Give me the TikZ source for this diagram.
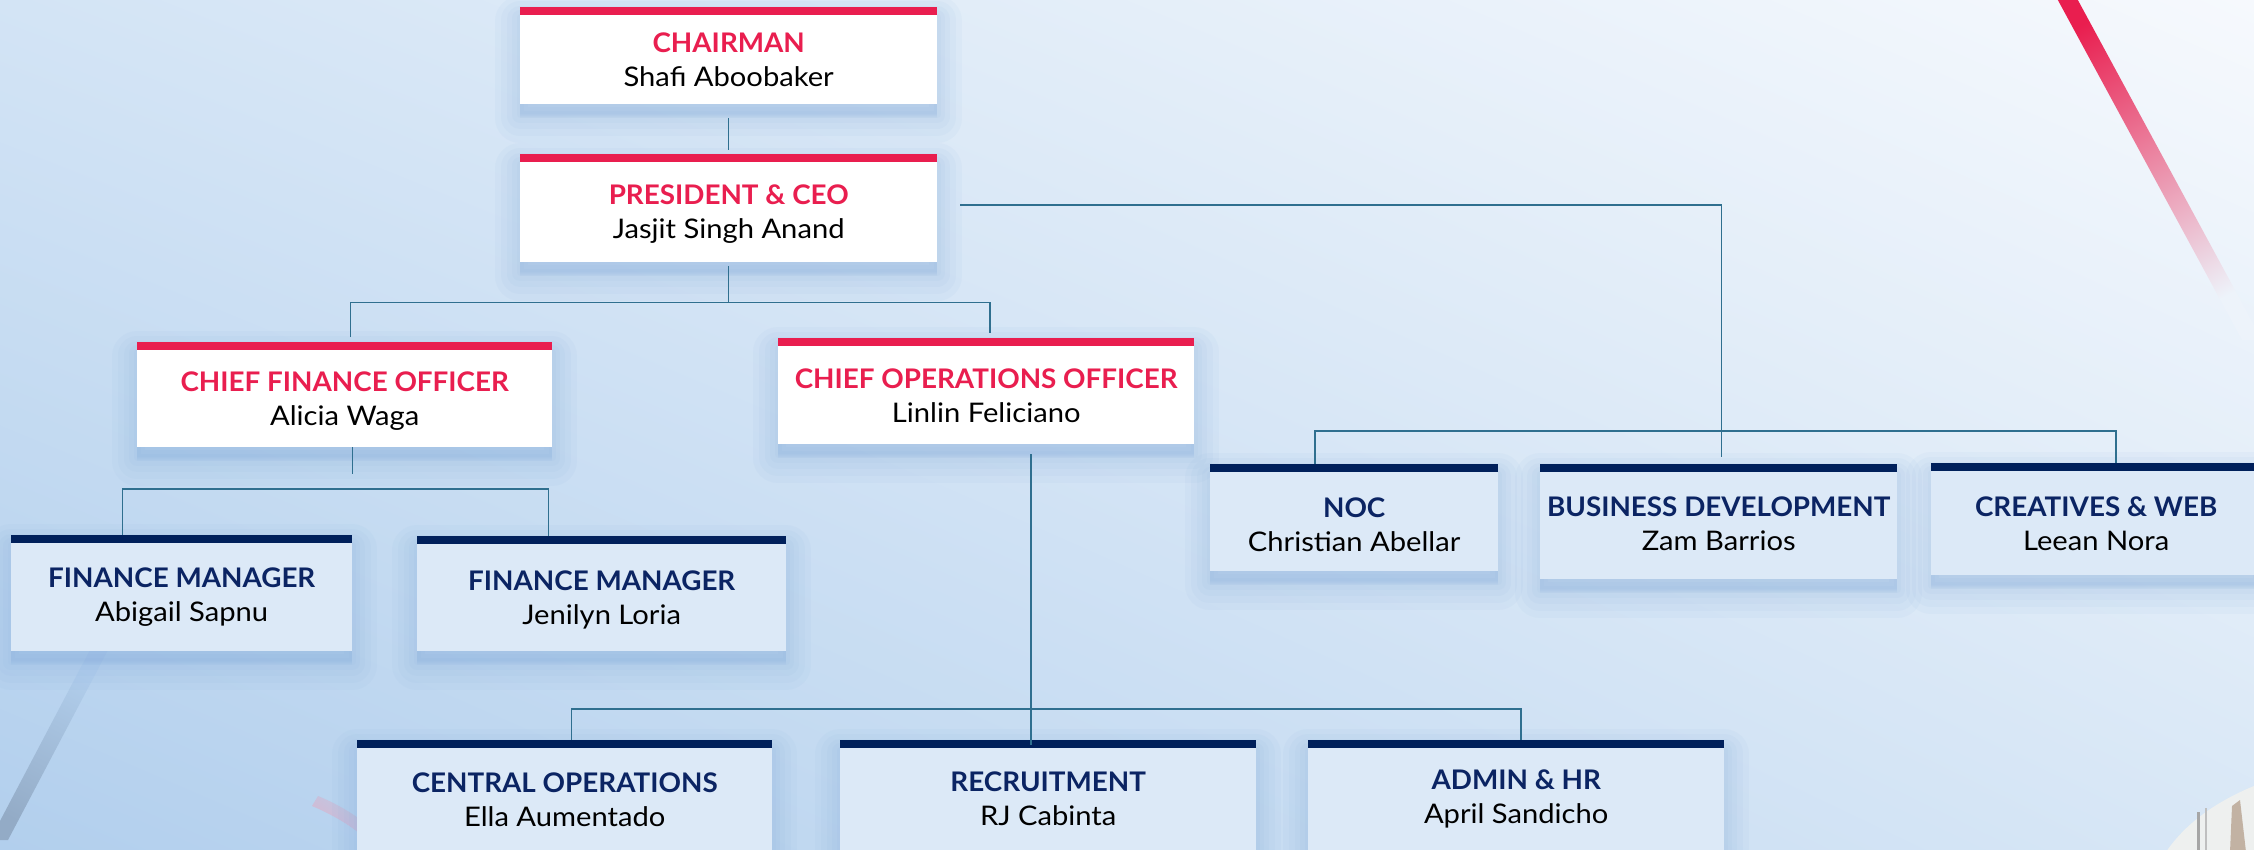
\documentclass[tikz,border=0pt]{standalone}
\usepackage{fontspec}
\setmainfont{Lato}[FakeStretch=1.08]
\newfontfamily\headfont{Lato}[FakeStretch=1.03]
\usetikzlibrary{shadows,shadings}

\definecolor{crimson}{HTML}{E91E4F}
\definecolor{navy}{HTML}{00205B}
\definecolor{navytext}{HTML}{0B2463}
\definecolor{paleblue}{HTML}{DCE9F7}
\definecolor{linkblue}{HTML}{2F6F8F}
\definecolor{shadeblue}{HTML}{7FA9DA}
\definecolor{bgUL}{HTML}{D3E4F5}
\definecolor{bgUR}{HTML}{F6F9FD}
\definecolor{bgLL}{HTML}{B2CFED}
\definecolor{bgLR}{HTML}{D8E7F6}
\definecolor{stripefade}{HTML}{EDF3FA}
\definecolor{greystripe}{HTML}{93ABC6}
\definecolor{softpink}{HTML}{E4AFC6}
\definecolor{photowhite}{HTML}{EEF0EF}

\newcommand\redtitle[1]{{\headfont\bfseries\color{crimson}#1}}
\newcommand\navytitle[1]{{\headfont\bfseries\color{navytext}#1}}
% two-line card text, drawn #1 lower than the centre of the card
\newcommand\cardtext[3][5pt]{\raisebox{-#1}[\height][\depth]{%
  \begin{tabular}{@{}c@{}}#2\\#3\end{tabular}}}

\tikzset{
  shadowlayer/.style={fill=shadeblue, draw=shadeblue, line join=round, opacity=0.06},
  softshadow/.style={
    general shadow={shadowlayer, line width=50pt, shadow yshift=-14pt},
    general shadow={shadowlayer, line width=38pt, shadow yshift=-13pt},
    general shadow={shadowlayer, line width=26pt, shadow yshift=-12pt},
    general shadow={shadowlayer, line width=16pt, shadow yshift=-11pt},
    general shadow={shadowlayer, line width=7pt, shadow yshift=-10pt},
  },
  orgbox/.style={rectangle, anchor=north west, inner sep=0pt,
    font=\fontsize{27}{34}\selectfont, text=black, softshadow},
  leadbox/.style={orgbox, fill=white,
    path picture={\fill[crimson] (path picture bounding box.north west) rectangle ([yshift=-8pt]path picture bounding box.north east);}},
  unitbox/.style={orgbox, fill=paleblue,
    path picture={\fill[navy] (path picture bounding box.north west) rectangle ([yshift=-8pt]path picture bounding box.north east);}},
  link/.style={draw=linkblue, line width=1.5pt},
}

\begin{document}
\begin{tikzpicture}[x=1pt, y=-1pt]
  % canvas and background
  \clip (0,0) rectangle (2254,850);
  \shade[upper left=bgUL, upper right=bgUR, lower left=bgLL, lower right=bgLR]
    (0,0) rectangle (2254,850);

  % decorative stripes
  \shade[top color=crimson, middle color=crimson!70!stripefade, bottom color=stripefade, shading angle=29]
    (2047,-20) -- (2067,-20) -- (2262,340) -- (2242,340) -- cycle;
  \shade[top color=bgLL, bottom color=greystripe, shading angle=-28]
    (90,650) -- (108,650) -- (8,840) -- (-10,840) -- cycle;
  \shade[top color=bgLL, bottom color=softpink, shading angle=-35]
    (312,806) .. controls (345,820) and (370,838) .. (384,860) -- (398,860)
    .. controls (382,832) and (352,810) .. (318,796) -- cycle;

  % photo corner
  \fill[photowhite] (2254,786) .. controls (2215,802) and (2185,824) .. (2166,852) -- (2254,852) -- cycle;
  \draw[gray!70, line width=3pt] (2198,812) -- (2198,852);
  \draw[gray!50, line width=2pt] (2206,808) -- (2206,852);
  \fill[brown!40!gray!60] (2232,806) -- (2240,800) -- (2246,852) -- (2230,852) -- cycle;

  % leadership
  \node[leadbox, minimum width=417pt, minimum height=97pt] (chair) at (520,7)
    {\cardtext[7pt]{\redtitle{CHAIRMAN}}{Shafi Aboobaker}};
  \node[leadbox, minimum width=417pt, minimum height=108pt] (pres) at (520,154)
    {\cardtext[7pt]{\redtitle{PRESIDENT \& CEO}}{Jasjit Singh Anand}};
  \node[leadbox, minimum width=415pt, minimum height=105pt] (cfo) at (137,342)
    {\cardtext[7pt]{\redtitle{CHIEF FINANCE OFFICER}}{Alicia Waga}};
  \node[leadbox, minimum width=416pt, minimum height=106pt] (coo) at (778,338)
    {\cardtext[7.5pt]{\redtitle{CHIEF OPERATIONS OFFICER}}{Linlin Feliciano}};

  % finance
  \node[unitbox, minimum width=341pt, minimum height=116pt] (fm1) at (11,535)
    {\cardtext[4pt]{\navytitle{FINANCE MANAGER}}{Abigail Sapnu}};
  \node[unitbox, minimum width=369pt, minimum height=115pt] (fm2) at (417,536)
    {\cardtext[7pt]{\navytitle{FINANCE MANAGER}}{Jenilyn Loria}};

  % units under the president
  \node[unitbox, minimum width=288pt, minimum height=107pt] (noc) at (1210,464)
    {\cardtext[10pt]{\navytitle{NOC}}{Christian Abellar}};
  \node[unitbox, minimum width=357pt, minimum height=115pt] (bd) at (1540,464)
    {\cardtext[4.5pt]{\navytitle{BUSINESS DEVELOPMENT}}{Zam Barrios}};
  \node[unitbox, minimum width=330pt, minimum height=112pt] (cw) at (1931,463)
    {\cardtext[7.5pt]{\navytitle{CREATIVES \& WEB}}{Leean Nora}};

  % operations
  \node[unitbox, minimum width=415pt, minimum height=116pt] (cen) at (357,740)
    {\cardtext[4.5pt]{\navytitle{CENTRAL OPERATIONS}}{Ella Aumentado}};
  \node[unitbox, minimum width=416pt, minimum height=116pt] (rec) at (840,740)
    {\cardtext[3.5pt]{\navytitle{RECRUITMENT}}{RJ Cabinta}};
  \node[unitbox, minimum width=416pt, minimum height=116pt] (adm) at (1308,740)
    {\cardtext[1.5pt]{\navytitle{ADMIN \& HR}}{April Sandicho}};

  % connectors
  \draw[link] ([yshift=-14pt]chair.south) -- ([yshift=4pt]pres.north);
  \draw[link] ([yshift=-4pt]pres.south) -- ++(0,36) coordinate (pj);
  \draw[link] ([xshift=6pt,yshift=5pt]cfo.north) |- (pj) -| ([xshift=4pt,yshift=5pt]coo.north);
  \draw[link] ([xshift=23pt,yshift=3pt]pres.east) -| ([xshift=3pt,yshift=7pt]bd.north);
  \draw[link] ([xshift=-39pt]noc.north) |- ([yshift=33pt]bd.north) -| ([xshift=20pt]cw.north);
  \draw[link] ([xshift=8pt]cfo.south) -- ++(0,27);
  \draw[link] ([xshift=-59pt]fm1.north) |- ([xshift=-59pt,yshift=46pt]fm1.north -| fm2.north) -| ([xshift=-53pt]fm2.north);
  \draw[link] ([xshift=45pt,yshift=-10pt]coo.south) -- ([xshift=-17pt,yshift=-5pt]rec.north);
  \draw[link] ([xshift=7pt]cen.north) |- ([yshift=31pt]rec.north) -| ([xshift=5pt]adm.north);
\end{tikzpicture}
\end{document}
